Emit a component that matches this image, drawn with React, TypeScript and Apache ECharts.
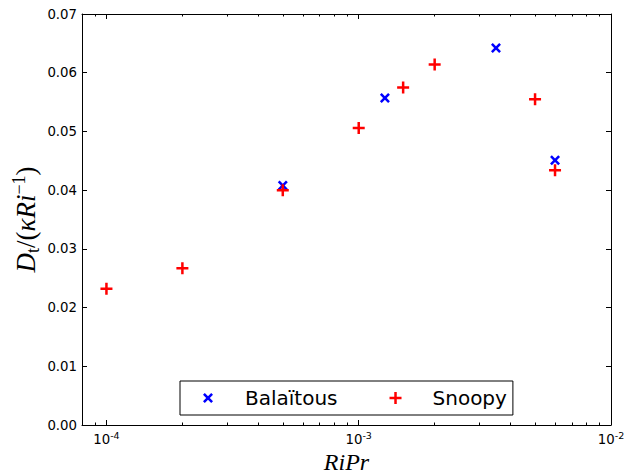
import React, { useEffect, useRef } from 'react';
import * as echarts from 'echarts';

// ---- data ----
const balaitousX = [5e-4, 1.27e-3, 3.5e-3, 6e-3];
const balaitousY = [0.0408, 0.0557, 0.0642, 0.0451];
const snoopyX = [1e-4, 2e-4, 5e-4, 1e-3, 1.5e-3, 2e-3, 5e-3, 6e-3];
const snoopyY = [0.0232, 0.0267, 0.04, 0.0506, 0.0575, 0.0614, 0.0555, 0.0434];
const xMajorTicks = [1e-4, 1e-3, 1e-2];
const xMinorTicks = [
  9e-5,
  2e-4, 3e-4, 4e-4, 5e-4, 6e-4, 7e-4, 8e-4, 9e-4,
  2e-3, 3e-3, 4e-3, 5e-3, 6e-3, 7e-3, 8e-3, 9e-3,
];
const X_MIN = 8e-5;
const X_MAX = 1e-2;
const Y_MIN = 0;
const Y_MAX = 0.07;
const Y_STEP = 0.01;
const seriesNames = ['Balaïtous', 'Snoopy'];

const PLUS_PATH = 'path://M4.75,0 H7.25 V4.75 H12 V7.25 H7.25 V12 H4.75 V7.25 H0 V4.75 H4.75 Z';
const CROSS_PATH =
  'path://M1.8,0 L5,3.2 L8.2,0 L10,1.8 L6.8,5 L10,8.2 L8.2,10 L5,6.8 L1.8,10 L0,8.2 L3.2,5 L0,1.8 Z';
// legend icons: 52x12 box, marker centred at x=20, tiny invisible extenders at both ends
const EXT = ' M0,6 L0.01,6 L0,6.01 Z M52,6 L51.99,6 L52,6.01 Z';
const CROSS_LEGEND =
  'path://M16.8,1 L20,4.2 L23.2,1 L25,2.8 L21.8,6 L25,9.2 L23.2,11 L20,7.8 L16.8,11 L15,9.2 L18.2,6 L15,2.8 Z' + EXT;
const PLUS_LEGEND =
  'path://M18.75,0 H21.25 V4.75 H26 V7.25 H21.25 V12 H18.75 V7.25 H14 V4.75 H18.75 Z' + EXT;

const black = '#000';
const sans = 'DejaVu Sans';
const serif = 'Liberation Serif';

function xLabel(v: number) {
  const e = Math.round(Math.log10(v));
  return `{b|10}{s|${e}}`;
}

function buildOption() {
  const lineStyle = { color: black, width: 1 };
  const baseX = {
    type: 'log' as const,
    logBase: 10,
    min: X_MIN,
    max: X_MAX,
    splitLine: { show: false },
    axisPointer: { show: false },
  };
  const baseY = {
    type: 'value' as const,
    min: Y_MIN,
    max: Y_MAX,
    interval: Y_STEP,
    splitLine: { show: false },
  };
  return {
    animation: false,
    backgroundColor: '#fff',
    grid: { left: 82, right: 25, top: 14, bottom: 50, containLabel: false, outerBoundsMode: 'none' },
    legend: {
      data: [
        { name: seriesNames[0], icon: CROSS_LEGEND },
        { name: seriesNames[1], icon: PLUS_LEGEND },
      ],
      left: 180,
      top: 381,
      orient: 'horizontal',
      borderColor: black,
      borderWidth: 1,
      borderRadius: 0,
      backgroundColor: '#fff',
      padding: [7, 6, 7, 8],
      itemGap: 38,
      itemWidth: 52,
      itemHeight: 12,
      textStyle: { fontFamily: sans, fontSize: 20, color: black },
    },
    xAxis: [
      {
        ...baseX,
        position: 'bottom',
        axisLine: { show: true, lineStyle },
        axisTick: { show: true, inside: true, length: 5, customValues: xMajorTicks, lineStyle },
        axisLabel: {
          show: true,
          customValues: xMajorTicks,
          formatter: xLabel,
          margin: 5,
          rich: {
            b: { fontFamily: sans, fontSize: 13.3, color: black, lineHeight: 18 },
            s: { fontFamily: sans, fontSize: 9.5, color: black, lineHeight: 8, verticalAlign: 'top' },
          },
        },
        name: 'RiPr',
        nameLocation: 'middle',
        nameGap: 26,
        nameMoveOverlap: false,
        nameTextStyle: { fontFamily: serif, fontStyle: 'italic', fontSize: 24, lineHeight: 22, color: black },
      },
      {
        ...baseX,
        position: 'bottom',
        axisLine: { show: false },
        axisTick: { show: true, inside: true, length: 2.5, customValues: xMinorTicks, lineStyle },
        axisLabel: { show: false },
      },
      {
        ...baseX,
        position: 'top',
        axisLine: { show: true, lineStyle },
        axisTick: { show: true, inside: true, length: 5, customValues: xMajorTicks, lineStyle },
        axisLabel: { show: false },
      },
      {
        ...baseX,
        position: 'top',
        axisLine: { show: false },
        axisTick: { show: true, inside: true, length: 2.5, customValues: xMinorTicks, lineStyle },
        axisLabel: { show: false },
      },
    ],
    yAxis: [
      {
        ...baseY,
        position: 'left',
        axisLine: { show: true, lineStyle },
        axisTick: { show: true, inside: true, length: 5, lineStyle },
        axisLabel: {
          show: true,
          margin: 5,
          fontFamily: sans,
          fontSize: 13.3,
          color: black,
          formatter: (v: number) => v.toFixed(2),
        },
        name: '{i|D}{sub|t}{n|/(}{i|κRi}{sup|−1}{n|)}',
        nameLocation: 'middle',
        nameGap: 40,
        nameRotate: 90,
        nameMoveOverlap: false,
        nameTextStyle: {
          color: black,
          rich: {
            i: { fontFamily: serif, fontStyle: 'italic', fontSize: 27, lineHeight: 32, color: black },
            n: { fontFamily: serif, fontSize: 27, lineHeight: 32, color: black },
            sub: { fontFamily: serif, fontStyle: 'normal', fontSize: 18, lineHeight: 22, verticalAlign: 'bottom', color: black },
            sup: { fontFamily: serif, fontStyle: 'normal', fontSize: 18, lineHeight: 15, verticalAlign: 'top', color: black },
          },
        },
      },
      {
        ...baseY,
        position: 'right',
        axisLine: { show: true, lineStyle },
        axisTick: { show: true, inside: true, length: 5, lineStyle },
        axisLabel: { show: false },
      },
    ],
    series: [
      {
        name: seriesNames[0],
        type: 'scatter',
        xAxisIndex: 0,
        yAxisIndex: 0,
        symbol: CROSS_PATH,
        symbolSize: 10,
        itemStyle: { color: '#0000ff', opacity: 1 },
        data: balaitousX.map((x, i) => [x, balaitousY[i]]),
        z: 3,
      },
      {
        name: seriesNames[1],
        type: 'scatter',
        xAxisIndex: 0,
        yAxisIndex: 0,
        symbol: PLUS_PATH,
        symbolSize: 12,
        itemStyle: { color: '#ff0000', opacity: 1 },
        data: snoopyX.map((x, i) => [x, snoopyY[i]]),
        z: 4,
      },
    ],
  };
}

export default function App() {
  const ref = useRef<HTMLDivElement>(null);
  useEffect(() => {
    document.body.style.margin = '0';
    const chart = echarts.init(ref.current as HTMLDivElement, null, { renderer: 'svg' });
    chart.setOption(buildOption() as any);
    return () => chart.dispose();
  }, []);
  return <div ref={ref} style={{ width: 636, height: 475 }} />;
}
